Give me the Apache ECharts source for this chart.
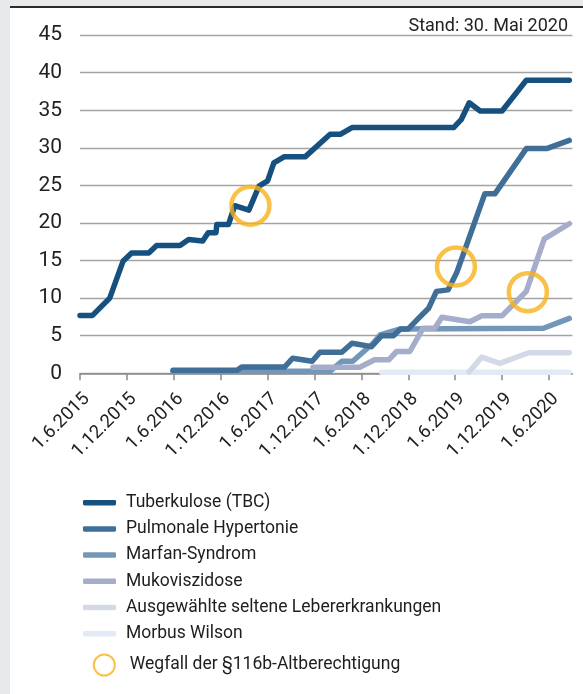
<!DOCTYPE html>
<html><head><meta charset="utf-8">
<script src="https://cdn.jsdelivr.net/npm/echarts@6/dist/echarts.min.js"></script>
<style>html,body{margin:0;padding:0;background:#fff}#c{width:583px;height:694px}</style>
</head><body><div id="c"></div>
<script>
// Months since 1.6.2015 and counts
const tickLabels = ['1.6.2015','1.12.2015','1.6.2016','1.12.2016','1.6.2017','1.12.2017','1.6.2018','1.12.2018','1.6.2019','1.12.2019','1.6.2020'];
const tickMonths = [0,6,12,18,24,30,36,42,48,54,60];

const tbcMonths = [0,1.6,3.8,5.5,6.6,8.8,9.8,12.8,13.9,15.7,16.4,17.4,17.5,19.0,19.8,21.6,22.9,24.0,24.8,26.1,28.8,32.0,33.3,34.8,47.8,48.8,49.8,51.2,54.0,57.1,62.6];
const tbcValues = [7.7,7.7,10,14.9,16,16,17,17,17.8,17.6,18.7,18.7,19.8,19.8,22.3,21.7,24.9,25.6,28.0,28.8,28.8,31.8,31.8,32.7,32.7,33.8,36.0,34.9,34.9,39.0,39.0];

const pulMonths = [11.9,20.1,20.7,26.2,27.2,29.7,30.7,33.5,34.8,37.3,38.6,40.1,41.0,42.0,43.3,44.6,45.6,47.1,48.2,51.8,53.1,57.1,59.7,62.6];
const pulValues = [0.4,0.4,0.85,0.85,2.0,1.6,2.8,2.8,4.0,3.55,5.0,5.0,5.9,5.9,7.3,8.65,10.9,11.1,13.4,23.9,23.9,29.9,29.9,31.0];

const marMonths = [11.9,32.0,33.5,34.9,37.5,38.4,41.0,59.3,62.6];
const marValues = [0.25,0.3,1.6,1.6,4.0,5.1,5.9,6.0,7.3];

const mukMonths = [29.8,35.8,37.7,39.5,40.5,42.2,43.9,45.4,46.3,49.9,51.4,54.0,57.1,59.4,62.6];
const mukValues = [0.8,0.8,1.8,1.8,2.9,2.9,6.0,6.0,7.45,6.85,7.65,7.65,10.9,17.9,19.9];

const lebMonths = [49.8,51.4,53.7,57.4,62.6];
const lebValues = [0.2,2.15,1.33,2.74,2.74];

const wilMonths = [38.6,62.6];
const wilValues = [0.15,0.15];

const markMonths = [21.8,48.1,57.3];
const markValues = [22.3,14.2,10.8];

const names = ['Tuberkulose (TBC)','Pulmonale Hypertonie','Marfan-Syndrom','Mukoviszidose','Ausgewählte seltene Lebererkrankungen','Morbus Wilson'];
const markName = 'Wegfall der §116b-Altberechtigung';

const zip = (a,b) => a.map((x,i)=>[x,b[i]]);
const FONT = 'Roboto, "Liberation Sans", sans-serif';
const ORANGE = '#f7b21a';

function lineSeries(name, xs, ys, color, z){
  return {name, type:'line', data: zip(xs,ys), showSymbol:false, symbol:'none', z,
    lineStyle:{color, width:5.5, cap:'round', join:'round'}, itemStyle:{color}, silent:true, animation:false};
}

const chart = echarts.init(document.getElementById('c'), null, {renderer:'canvas'});
chart.setOption({
  animation:false,
  backgroundColor:'#ffffff',
  graphic:[
    {type:'rect', z:-10, shape:{x:0,y:0,width:583,height:694}, style:{fill:'#e8e9eb'}},
    {type:'rect', z:-9, shape:{x:10,y:7,width:573,height:687}, style:{fill:'#ffffff'}},
    {type:'rect', z:-8, shape:{x:10,y:6,width:573,height:2}, style:{fill:'#2b2b2b'}},
    {type:'text', right:15, top:17, style:{text:'Stand: 30. Mai 2020', font:'18px '+FONT, fill:'#222'}}
  ],
  grid:{left:80, right:10.6, top:35.1, bottom:320.7, containLabel:false},
  xAxis:{type:'value', min:0, max:63,
    axisLine:{show:true, lineStyle:{color:'#8a8a8a', width:1.5}},
    axisTick:{show:true, customValues:tickMonths, length:7, lineStyle:{color:'#8a8a8a', width:1.5}},
    axisLabel:{customValues:tickMonths, rotate:45, margin:16, verticalAlign:'top', fontSize:18.5, fontFamily:FONT, color:'#222',
      formatter:(v)=>tickLabels[tickMonths.indexOf(v)]},
    splitLine:{show:false}},
  yAxis:{type:'value', min:0, max:45, interval:5,
    axisLine:{show:false}, axisTick:{show:false},
    axisLabel:{fontSize:21, fontFamily:FONT, color:'#222', margin:18},
    splitLine:{lineStyle:{color:'#a3a3a3', width:1.3}}},
  legend:[
    {data:names, orient:'vertical', left:83, top:492.7, padding:0, itemWidth:33, itemHeight:5.5, itemGap:6.2, icon:'roundRect',
      textStyle:{fontSize:17.5, fontFamily:FONT, color:'#1e1e1e', lineHeight:20, padding:[0,0,0,5]}, selectedMode:false},
    {data:[{name:markName, icon:'circle', itemStyle:{color:'rgba(0,0,0,0)', borderColor:ORANGE, borderWidth:2}}],
      orient:'vertical', left:92.8, top:653.5, padding:0, itemWidth:21, itemHeight:21,
      textStyle:{fontSize:17.5, fontFamily:FONT, color:'#1e1e1e', padding:[0,0,0,10]}, selectedMode:false}
  ],
  series:[
    lineSeries(names[0], tbcMonths, tbcValues, '#15507f', 8),
    lineSeries(names[1], pulMonths, pulValues, '#3f6e97', 7),
    lineSeries(names[2], marMonths, marValues, '#7497b9', 5),
    lineSeries(names[3], mukMonths, mukValues, '#a5adcb', 6),
    lineSeries(names[4], lebMonths, lebValues, '#d3d9e7', 4),
    lineSeries(names[5], wilMonths, wilValues, '#e2ebf5', 3),
    {name:markName, type:'scatter', data: zip(markMonths, markValues), symbol:'circle', symbolSize:38, z:10, silent:true,
      itemStyle:{color:'rgba(0,0,0,0)', borderColor:ORANGE, borderWidth:4.5}}
  ]
});
</script></body></html>
